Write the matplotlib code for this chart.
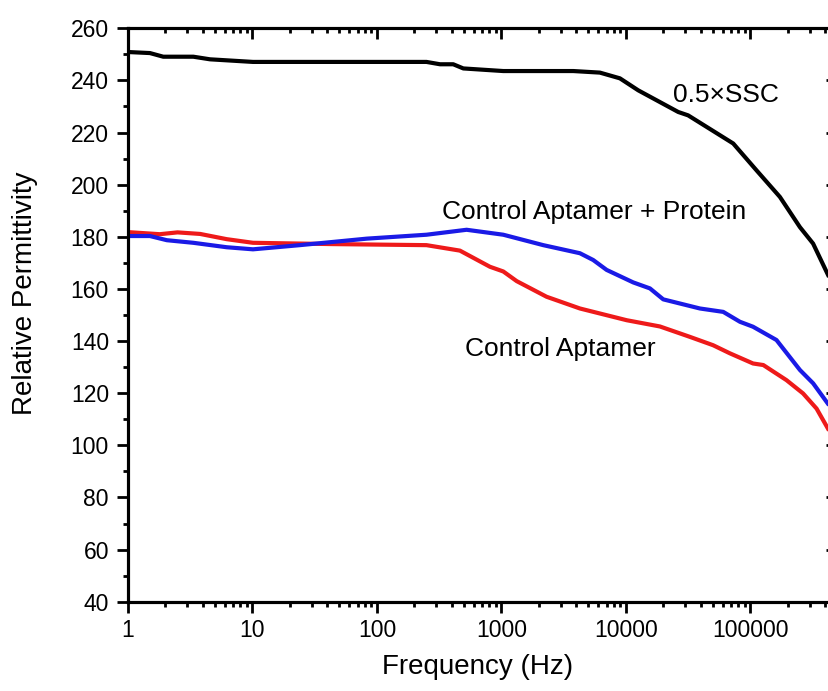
import matplotlib
matplotlib.use("Agg")
import matplotlib.pyplot as plt
from matplotlib.ticker import LogLocator, FuncFormatter, MultipleLocator, NullFormatter

plt.rcParams['font.family'] = ['Liberation Sans', 'DejaVu Sans']

# ---- data (frequency in Hz, relative permittivity) ----
ssc_f = [1, 1.5, 1.92, 3.35, 4.56, 10.1, 64.5, 250, 321, 410, 494, 1035, 3780,
         6180, 8950, 12560, 26300, 31600, 72800, 112000, 172600, 250000, 319000, 428000]
ssc_v = [250.9, 250.5, 249.1, 249.1, 248.1, 247.1, 247.1, 247.1, 246.2, 246.2, 244.6,
         243.6, 243.6, 243.0, 240.8, 236.2, 227.9, 226.6, 215.8, 205.5, 195.3, 183.7,
         177.4, 164.6]

apt_f = [1, 1.8, 2.5, 3.8, 6.2, 10.1, 44.6, 250, 464, 809, 1035, 1326, 2305, 4270,
         10140, 18760, 32700, 50200, 68400, 105000, 127000, 195000, 265000, 340000, 428000]
apt_v = [181.8, 181.0, 181.7, 181.1, 179.1, 177.7, 177.2, 176.8, 174.7, 168.5, 166.7,
         163.0, 157.0, 152.5, 148.0, 145.6, 141.6, 138.4, 135.3, 131.4, 130.8, 125.0,
         119.9, 114.1, 105.7]

prot_f = [1, 1.5, 2.05, 3.35, 6.2, 10.1, 24, 83, 250, 525, 1035, 2168, 4270, 5460,
          7000, 11450, 15600, 19950, 39300, 60500, 82400, 105000, 162000, 250000,
          319000, 428000]
prot_v = [180.3, 180.3, 178.7, 177.7, 176.0, 175.2, 176.8, 179.3, 180.8, 182.7, 180.8,
          176.8, 173.7, 171.1, 167.3, 162.5, 160.2, 156.0, 152.5, 151.2, 147.4, 145.5,
          140.4, 128.9, 123.8, 115.4]

labels = ["0.5\u00d7SSC", "Control Aptamer + Protein", "Control Aptamer"]
x_label = "Frequency (Hz)"
y_label = "Relative Permittivity"
xlim = (1, 5e5)
ylim = (40, 260)

W, H = 829, 691
fig = plt.figure(figsize=(W / 100, H / 100), dpi=100)
left_px, right_px, top_px, bot_px = 128, 837.4, 28.3, 601.7
ax = fig.add_axes([left_px / W, (H - bot_px) / H, (right_px - left_px) / W, (bot_px - top_px) / H])

lw = 3.0
style = dict(lw=lw, solid_capstyle='butt', solid_joinstyle='round')
ax.plot(ssc_f, ssc_v, color='black', zorder=3, **style)
ax.plot(apt_f, apt_v, color='#ee1a1a', zorder=3, **style)
ax.plot(prot_f, prot_v, color='#1a1ae6', zorder=4, **style)

ax.set_xscale('log')
ax.set_xlim(*xlim)
ax.set_ylim(*ylim)

ax.xaxis.set_major_locator(LogLocator(base=10, numticks=20))
ax.xaxis.set_minor_locator(LogLocator(base=10, subs=range(2, 10), numticks=100))
ax.xaxis.set_major_formatter(FuncFormatter(lambda v, p: "%d" % round(v)))
ax.xaxis.set_minor_formatter(NullFormatter())
ax.yaxis.set_major_locator(MultipleLocator(20))
ax.yaxis.set_minor_locator(MultipleLocator(10))

spw = 2.2
for s in ax.spines.values():
    s.set_linewidth(spw)

ax.tick_params(axis='both', which='major', direction='out', length=7.7, width=2.0,
               labelsize=16.5, top=False, right=False)
ax.tick_params(axis='both', which='minor', direction='out', length=3.8, width=2.0,
               top=False, right=False)
ax.tick_params(axis='x', which='major', pad=5)
ax.tick_params(axis='y', which='major', pad=6)

# mirrored inward ticks on top and right
axt = ax.twiny()
axt.set_xscale('log')
axt.set_xlim(*xlim)
axt.xaxis.set_major_locator(LogLocator(base=10, numticks=20))
axt.xaxis.set_minor_locator(LogLocator(base=10, subs=range(2, 10), numticks=100))
axt.tick_params(axis='x', which='major', direction='in', length=7.7, width=2.0, labeltop=False)
axt.tick_params(axis='x', which='minor', direction='in', length=3.8, width=2.0, labeltop=False)
axr = ax.twinx()
axr.set_ylim(*ylim)
axr.yaxis.set_major_locator(MultipleLocator(20))
axr.yaxis.set_minor_locator(MultipleLocator(10))
axr.tick_params(axis='y', which='major', direction='in', length=7.7, width=2.0, labelright=False)
axr.tick_params(axis='y', which='minor', direction='in', length=3.8, width=2.0, labelright=False)
for a in (axt, axr):
    for s in a.spines.values():
        s.set_linewidth(spw)

ax.set_xlabel(x_label, fontsize=20)
ax.set_ylabel(y_label, fontsize=20)
ax.xaxis.set_label_coords(0.493, -0.091)
ax.yaxis.set_label_coords(-0.127, 0.5375)

ax.text(23870, 231.8, labels[0], fontsize=19, ha='left', va='baseline')
ax.text(331, 186.9, labels[1], fontsize=19, ha='left', va='baseline')
ax.text(509, 134.4, labels[2], fontsize=19, ha='left', va='baseline')

fig.savefig("out.png", dpi=100)
